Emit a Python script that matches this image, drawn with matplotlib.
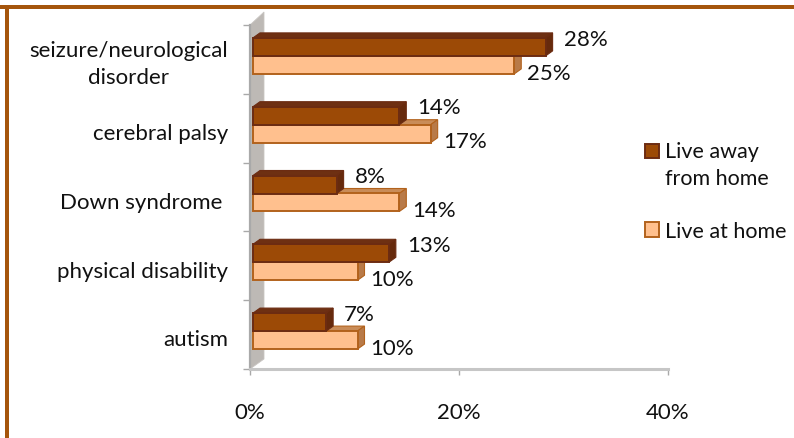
import matplotlib
matplotlib.use("Agg")
import matplotlib.pyplot as plt
from matplotlib.patches import Patch, Rectangle
from matplotlib.transforms import ScaledTranslation

plt.rcParams['font.family'] = ['Lato', 'DejaVu Sans']

categories = ["seizure/neurological\ndisorder", "cerebral palsy", "Down syndrome ",
              "physical disability", "autism"]
away = [28, 14, 8, 13, 7]
home = [25, 17, 14, 10, 10]
ticks = [0, 20, 40]

W, H = 794, 439
# pixel sizes of one data unit
PX_X = 418.0 / 40
PX_Y = 344.0 / 5

X0 = 3 / PX_X         # bars start a bit inside the wall
DX = 7 / PX_X         # 3d depth
DY = 5 / PX_Y
BAR_H = 18 / PX_Y
SHIFT = 3.5 / PX_Y    # bars sit above the category centre
FS = 16


def bar3d(ax, y, value, front, edge, top, side, z):
    # y is the upper edge of the front face
    x1 = X0 + value
    ax.fill([X0, x1, x1 + DX, X0 + DX], [y, y, y - DY, y - DY],
            facecolor=top, edgecolor=edge, lw=0.8, zorder=z)
    ax.fill([x1, x1 + DX, x1 + DX, x1], [y, y - DY, y + BAR_H - DY, y + BAR_H],
            facecolor=side, edgecolor=edge, lw=0.8, zorder=z)
    ax.barh(y + BAR_H / 2, value, height=BAR_H, left=X0, color=front,
            edgecolor=edge, lw=1.4, zorder=z + 0.1)


fig = plt.figure(figsize=(W / 100, H / 100), dpi=100)
ax = fig.add_axes([250 / W, 1 - 370 / H, 418 / W, 344 / H])
ax.set_xlim(0, 40)
ax.set_ylim(4.5, -0.5)

# grey back wall
wall_dx = 14 / PX_X
ax.fill([0, wall_dx, wall_dx, 0], [-0.5, -0.5 - 13 / PX_Y, 4.5 - 10 / PX_Y, 4.5],
        facecolor="#bdb9b5", edgecolor="#c9c6c3", lw=0.6, clip_on=False, zorder=1)

for i in range(len(categories)):
    mid = i - SHIFT
    # lighter series first so the dark one overlaps its top face
    bar3d(ax, mid, home[i], "#ffc08e", "#b2621c", "#c98c58", "#b87a48", 3)
    bar3d(ax, mid - BAR_H, away[i], "#9c4a06", "#6c2c12", "#6e3012", "#662a0c", 4)
    ax.annotate("{}%".format(away[i]), (X0 + away[i], mid - BAR_H / 2), xytext=(13, 6),
                textcoords="offset points", va="center", ha="left", fontsize=FS,
                color="#111111", zorder=6, annotation_clip=False)
    ax.annotate("{}%".format(home[i]), (X0 + home[i], mid + BAR_H / 2), xytext=(9, -5.5),
                textcoords="offset points", va="center", ha="left", fontsize=FS,
                color="#111111", zorder=6, annotation_clip=False)

for s in ["top", "right"]:
    ax.spines[s].set_visible(False)
ax.spines["left"].set_color("#a9a9a9")
ax.spines["left"].set_linewidth(1.6)
ax.spines["left"].set_zorder(2)
ax.spines["bottom"].set_color("#c6c6c6")
ax.spines["bottom"].set_linewidth(2.2)

ax.set_xticks(ticks)
ax.set_xticklabels(["{}%".format(t) for t in ticks], fontsize=FS, color="#111111")
ax.tick_params(axis="x", length=4, width=1, color="#a9a9a9", pad=20)

ax.set_yticks(range(len(categories)))
ax.set_yticklabels(categories, fontsize=FS, color="#111111", multialignment="center",
                   linespacing=1.45)
ax.tick_params(axis="y", length=0, pad=16)
for lab in ax.get_yticklabels():
    # two line label needs to go up, the others down a touch
    off = 1 if "\n" in lab.get_text() else -2
    lab.set_transform(lab.get_transform() + ScaledTranslation(0, off / 72, fig.dpi_scale_trans))
# tick marks sit between the categories
ax.set_yticks([i - 0.5 for i in range(len(categories) + 1)], minor=True)
ax.tick_params(axis="y", which="minor", length=5, width=1, color="#a9a9a9")

handles = [Patch(facecolor="#9c4a06", edgecolor="#6c2c12", lw=1.4),
           Patch(facecolor="#ffc08e", edgecolor="#b2621c", lw=1.4)]
leg = fig.legend(handles, ["Live away\nfrom home", "Live at home"], loc="upper left",
                 bbox_to_anchor=(639 / W, 1 - 136 / H), frameon=False, fontsize=15.5,
                 handlelength=0.65, handleheight=0.65, handletextpad=0.26, labelspacing=1.55,
                 borderpad=0.3, borderaxespad=0, labelcolor="#111111")
for t in leg.get_texts():
    t.set_linespacing(1.4)
# marker of the two line entry goes next to its first line
leg.legend_handles[0].set_y(leg.legend_handles[0].get_y() + 10)

# brown frame of the slide
fig.add_artist(Rectangle((0, 1 - 9.5 / H), 1, 4 / H, transform=fig.transFigure,
                         facecolor="#a5550c", edgecolor="none"))
fig.add_artist(Rectangle((5 / W, 0), 4 / W, 1 - 5.5 / H, transform=fig.transFigure,
                         facecolor="#a5550c", edgecolor="none"))

fig.savefig("out.png", dpi=100)
